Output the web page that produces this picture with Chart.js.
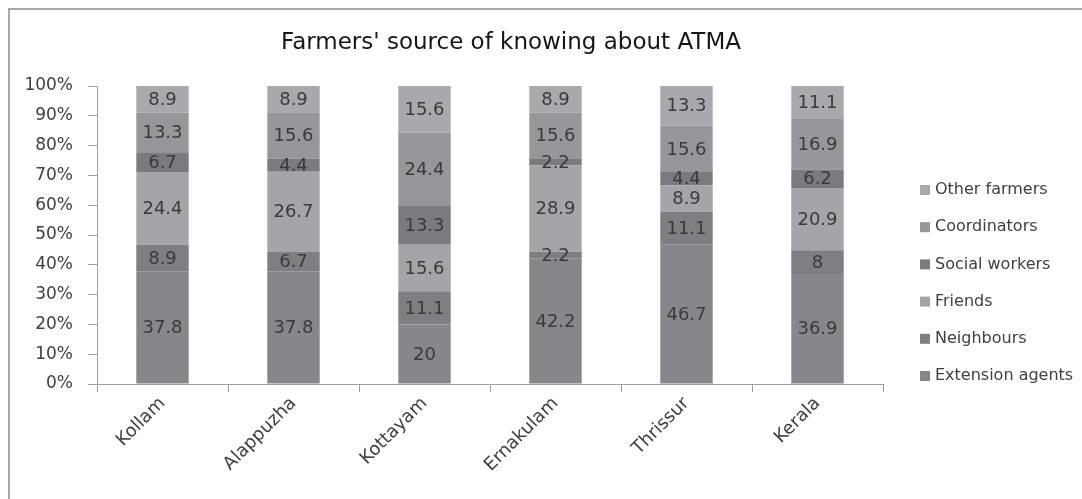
<!DOCTYPE html>
<html>
<head>
<meta charset="utf-8">
<script src="https://cdn.jsdelivr.net/npm/chart.js@4.4.1/dist/chart.umd.min.js"></script>
<style>
  html, body { margin: 0; padding: 0; background: #ffffff; overflow: hidden; }
  #wrap { position: relative; width: 1082px; height: 499px; overflow: hidden; background: #fff; }
  .hline { position: absolute; left: 8px; top: 8px; width: 1074px; height: 2px; background: #a8a8a8; }
  .vline { position: absolute; left: 8px; top: 8px; width: 2px; height: 491px; background: #a8a8a8; }
  canvas { position: absolute; left: 0; top: 0; display: block; }
</style>
</head>
<body>
<div id="wrap">
  <canvas id="c" width="1082" height="499"></canvas>
  <div class="hline"></div>
  <div class="vline"></div>
</div>
<script>
const chartTitle = "Farmers' source of knowing about ATMA";
const categories = ['Kollam', 'Alappuzha', 'Kottayam', 'Ernakulam', 'Thrissur', 'Kerala'];
const seriesNames = ['Extension agents', 'Neighbours', 'Friends', 'Social workers', 'Coordinators', 'Other farmers'];
const extensionAgents = [37.8, 37.8, 20, 42.2, 46.7, 36.9];
const neighbours      = [8.9, 6.7, 11.1, 2.2, 11.1, 8];
const friends         = [24.4, 26.7, 15.6, 28.9, 8.9, 20.9];
const socialWorkers   = [6.7, 4.4, 13.3, 2.2, 4.4, 6.2];
const coordinators    = [13.3, 15.6, 24.4, 15.6, 15.6, 16.9];
const otherFarmers    = [8.9, 8.9, 15.6, 8.9, 13.3, 11.1];
const yTickValues = [0, 10, 20, 30, 40, 50, 60, 70, 80, 90, 100];

const seriesValues = [extensionAgents, neighbours, friends, socialWorkers, coordinators, otherFarmers];
const seriesColors = ['#86878b', '#7e7f83', '#a4a5a8', '#7a7b7f', '#96979b', '#a8a9ac'];

const TEXT = '#404040';
const AXIS = '#a0a0a0';
const FONT = "'DejaVu Sans', sans-serif";

const datasets = seriesNames.map((name, i) => ({
  label: name,
  data: seriesValues[i],
  backgroundColor: seriesColors[i],
  borderWidth: 0,
  barPercentage: 0.4,
  categoryPercentage: 1.0
}));

const titlePlugin = {
  id: 'titleText',
  afterDraw(chart) {
    const ctx = chart.ctx;
    ctx.save();
    ctx.font = "23px " + FONT;
    ctx.fillStyle = '#161616';
    ctx.textAlign = 'center';
    ctx.textBaseline = 'middle';
    ctx.fillText(chartTitle, 511, 43);
    ctx.restore();
  }
};

const valueLabels = {
  id: 'valueLabels',
  afterDatasetsDraw(chart) {
    const ctx = chart.ctx;
    ctx.save();
    ctx.font = "18px " + FONT;
    ctx.fillStyle = '#3a3a3a';
    ctx.textAlign = 'center';
    ctx.textBaseline = 'middle';
    chart.data.datasets.forEach((ds, di) => {
      const meta = chart.getDatasetMeta(di);
      meta.data.forEach((el, j) => {
        const p = el.getProps(['x', 'y', 'base'], true);
        ctx.fillText(String(ds.data[j]), p.x, (p.y + p.base) / 2 + 1);
      });
    });
    ctx.restore();
  }
};

const sideLegend = {
  id: 'sideLegend',
  afterDraw(chart) {
    const ctx = chart.ctx;
    ctx.save();
    ctx.font = "16px " + FONT;
    ctx.textBaseline = 'middle';
    ctx.textAlign = 'left';
    const n = chart.data.datasets.length;
    for (let k = 0; k < n; k++) {
      const ds = chart.data.datasets[n - 1 - k];
      const cy = 190 + k * 37.2;
      ctx.fillStyle = ds.backgroundColor;
      ctx.fillRect(920, cy - 5, 10, 10);
      ctx.fillStyle = TEXT;
      ctx.fillText(ds.label, 935, cy);
    }
    ctx.restore();
  }
};

new Chart(document.getElementById('c'), {
  type: 'bar',
  data: { labels: categories, datasets },
  options: {
    responsive: false,
    devicePixelRatio: 1,
    animation: false,
    layout: { padding: { left: 0, right: 199, top: 86, bottom: 0 } },
    plugins: {
      legend: { display: false },
      title: { display: false },
      tooltip: { enabled: false }
    },
    scales: {
      x: {
        stacked: true,
        afterFit(s) { s.height = 115; },
        grid: { offset: true, drawOnChartArea: false, drawTicks: true, tickLength: 8, color: AXIS },
        border: { display: true, color: AXIS, width: 1 },
        ticks: {
          color: TEXT,
          font: { family: FONT, size: 18 },
          minRotation: 45,
          maxRotation: 45,
          padding: 1
        }
      },
      y: {
        stacked: true,
        min: 0,
        max: 100,
        afterFit(s) { s.width = 97; },
        afterBuildTicks(s) { s.ticks = yTickValues.map(v => ({ value: v })); },
        grid: { drawOnChartArea: false, drawTicks: true, tickLength: 9, color: AXIS },
        border: { display: true, color: AXIS, width: 1 },
        ticks: {
          color: TEXT,
          font: { family: FONT, size: 17 },
          padding: 15,
          callback: (v) => v + '%'
        }
      }
    }
  },
  plugins: [titlePlugin, valueLabels, sideLegend]
});
</script>
</body>
</html>
